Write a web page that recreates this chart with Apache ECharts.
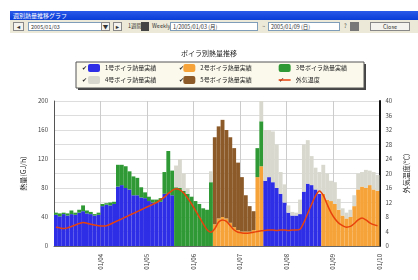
<!DOCTYPE html>
<html>
<head>
<meta charset="utf-8">
<script src="https://cdn.jsdelivr.net/npm/echarts@6/dist/echarts.min.js"></script>
<style>
  body { margin: 0; background: #fff; font-family: 'Noto Sans CJK JP', sans-serif; }
  #chart { position: absolute; left: 0; top: 0; width: 418px; height: 280px; }
  #bar { position: absolute; left: 10px; top: 11px; width: 408px; z-index: 2; }
  .cap { height: 9px; background: linear-gradient(#2a5ae8, #0a3cd8); color: #fff; font-size: 6px; line-height: 9px; padding-left: 3px; }
  .tools { height: 13px; background: #ece9d8; position: relative; font-size: 5.5px; color: #333; }
  .tools div { position: absolute; top: 2px; height: 9px; line-height: 9px; box-sizing: border-box; }
  .btn { border: 1px solid #888; background: #f4f3ee; text-align: center; }
  .fld { border: 1px solid #7f9db9; background: #fff; padding-left: 2px; }
</style>
</head>
<body>
<div id="bar">
  <div class="cap">週別熱量推移グラフ</div>
  <div class="tools">
    <div class="btn" style="left:3px;width:11px">◄</div>
    <div class="fld" style="left:18px;width:82px">2005/01/03</div>
    <div class="btn" style="left:91px;width:9px">▼</div>
    <div class="btn" style="left:103px;width:9px">►</div>
    <div style="left:118px">1週間</div>
    <div style="left:131px;width:8px;background:#444"></div>
    <div style="left:142px">Weekly</div>
    <div class="fld" style="left:160px;width:88px">1/2005/01/03 (月)</div>
    <div style="left:252px">~</div>
    <div class="fld" style="left:258px;width:72px">2005/01/09 (日)</div>
    <div style="left:334px">?</div>
    <div style="left:340px;width:9px;background:#777"></div>
    <div class="btn" style="left:360px;width:40px">Close</div>
  </div>
</div>
<div id="chart"></div>
<script>
// 日付ラベル（日の区切り）
const dayLabels = ['', '01/04', '01/05', '01/06', '01/07', '01/08', '01/09', '01/10']

// ボイラ別熱量 (2時間毎, 84点)
const boiler1 = [
  43, 41, 44, 42, 44, 43, 46, 48, 45, 44, 42, 43,
  55, 57, 56, 58, 82, 84, 80, 78, 70, 70, 67, 66,
  62, 60, 60, 61, 72, 73, 70, 0, 0, 0, 0, 0,
  0, 0, 0, 0, 0, 0, 0, 0, 0, 0, 0, 0,
  0, 0, 0, 0, 0, 0, 90, 95, 88, 80, 72, 60,
  46, 42, 42, 44, 75, 86, 84, 78, 72, 0, 0, 0,
  0, 0, 0, 0, 0, 0, 0, 0, 0, 0, 0, 0
]
const boiler2 = [
  0, 0, 0, 0, 0, 0, 0, 0, 0, 0, 0, 0,
  0, 0, 0, 0, 0, 0, 0, 0, 0, 0, 0, 0,
  0, 0, 0, 0, 0, 0, 0, 0, 0, 0, 0, 0,
  0, 0, 0, 0, 0, 30, 38, 40, 38, 32, 26, 22,
  20, 20, 20, 22, 95, 110, 0, 0, 0, 0, 0, 0,
  0, 0, 0, 0, 0, 0, 0, 0, 0, 72, 64, 62,
  58, 50, 42, 38, 40, 55, 78, 82, 80, 84, 78, 76
]
const boiler5 = [
  0, 0, 0, 0, 0, 0, 0, 0, 0, 0, 0, 0,
  0, 0, 0, 0, 0, 0, 0, 0, 0, 0, 0, 0,
  0, 0, 0, 0, 0, 0, 0, 0, 0, 0, 0, 0,
  0, 0, 0, 0, 0, 120, 127, 134, 122, 118, 109, 93,
  75, 50, 35, 26, 0, 0, 0, 0, 0, 0, 0, 0,
  0, 0, 0, 0, 0, 0, 0, 0, 0, 0, 0, 0,
  0, 0, 0, 0, 0, 0, 0, 0, 0, 0, 0, 0
]
const boiler3 = [
  3, 4, 2, 3, 5, 3, 4, 8, 4, 3, 2, 3,
  3, 2, 4, 3, 30, 28, 30, 25, 26, 24, 14, 8,
  6, 4, 4, 5, 30, 58, 34, 81, 80, 76, 72, 68,
  62, 58, 52, 50, 88, 0, 0, 0, 0, 0, 0, 0,
  0, 0, 0, 0, 40, 62, 0, 0, 0, 0, 0, 0,
  0, 0, 0, 0, 0, 0, 0, 0, 0, 0, 0, 0,
  0, 0, 0, 0, 0, 0, 0, 0, 0, 0, 0, 0
]
const boiler4 = [
  0, 0, 0, 0, 0, 0, 0, 0, 0, 0, 0, 0,
  0, 0, 0, 0, 0, 0, 0, 0, 0, 0, 0, 0,
  0, 0, 0, 0, 0, 0, 0, 30, 40, 24, 8, 0,
  0, 0, 0, 0, 15, 0, 0, 0, 0, 0, 0, 0,
  0, 0, 0, 0, 0, 28, 70, 65, 70, 60, 30, 25,
  10, 5, 4, 20, 65, 60, 40, 30, 30, 40, 36, 28,
  30, 15, 10, 8, 10, 15, 22, 20, 25, 20, 24, 22
]
// 外気温度 (℃)
const outTemp = [
  5.2, 5.0, 4.8, 5.0, 5.4, 5.8, 6.2, 6.5, 6.3, 6.0, 5.8, 5.6,
  5.5, 5.6, 6.0, 6.5, 7.0, 7.5, 8.0, 8.5, 9.0, 9.5, 10.0, 10.5,
  11.0, 11.5, 12.0, 12.8, 13.5, 14.5, 15.3, 15.8, 15.5, 14.6, 13.2, 11.6,
  9.8, 8.0, 6.2, 4.5, 3.8, 4.8, 6.6, 7.2, 6.8, 5.6, 4.4, 3.8,
  3.6, 3.5, 3.6, 3.8, 4.0, 4.2, 4.3, 4.4, 4.4, 4.3, 4.4, 4.4,
  4.3, 4.4, 4.4, 4.6, 6.5, 9.0, 11.5, 13.8, 15.2, 14.0, 11.5, 9.2,
  7.5, 6.3, 5.6, 5.2, 5.4, 6.2, 7.2, 7.7, 7.2, 6.4, 5.9, 5.6
]

const names = ['1号ボイラ熱量実績', '2号ボイラ熱量実績', '3号ボイラ熱量実績', '4号ボイラ熱量実績', '5号ボイラ熱量実績', '外気温度']
const colors = ['#2e2ee6', '#f6a43a', '#2f9a35', '#d8d8ce', '#8c5a28', '#e8420c']

// 2時間毎のカテゴリ
const slots = outTemp.map((v, i) => String(i))

const barSeries = (name, color, data) => ({
  name: name,
  type: 'bar',
  stack: 'heat',
  xAxisIndex: 1,
  barCategoryGap: '0%',
  itemStyle: { color: color },
  data: data
})

const chart = echarts.init(document.getElementById('chart'))
const font = 'Noto Sans CJK JP'
const checks = []
;[82, 179, 279].forEach(x => {
  ;[65, 77].forEach(y => {
    checks.push({ type: 'text', left: x, top: y, style: { text: '✔', fontSize: 6, fill: '#222' } })
  })
})

chart.setOption({
  textStyle: { fontFamily: font },
  animation: false,
  title: {
    text: 'ボイラ別熱量推移',
    left: 'center',
    top: 45,
    textStyle: { fontSize: 7, fontWeight: 'normal', color: '#222' }
  },
  graphic: [
    { type: 'rect', shape: { x: 78, y: 64, width: 288, height: 26 }, style: { fill: '#444' } },
    { type: 'rect', shape: { x: 76, y: 62, width: 288, height: 26 }, style: { fill: '#fbf9ec', stroke: '#555', lineWidth: 1 } }
  ].concat(checks),
  legend: [
    {
      data: [names[0], names[1], names[2]],
      left: 88, top: 64, padding: 0, itemWidth: 12, itemHeight: 8, itemGap: 27,
      textStyle: { fontSize: 6, color: '#222' }
    },
    {
      data: [names[3], names[4], { name: names[5], icon: 'path://M0,0 L24,0 L24,3 L0,3 Z' }],
      left: 88, top: 76, padding: 0, itemWidth: 12, itemHeight: 8, itemGap: 27,
      textStyle: { fontSize: 6, color: '#222' }
    }
  ],
  grid: { left: 54, right: 37, top: 101, bottom: 34 },
  xAxis: [
    {
      type: 'value',
      min: 0,
      max: 84,
      interval: 12,
      axisLine: { lineStyle: { color: '#666' } },
      axisTick: { show: false },
      splitLine: { lineStyle: { color: '#ccc' } },
      axisLabel: {
        rotate: 90,
        fontSize: 6,
        color: '#333',
        showMinLabel: false,
        formatter: v => dayLabels[v / 12]
      }
    },
    {
      type: 'category',
      data: slots,
      show: false
    }
  ],
  yAxis: [
    {
      type: 'value',
      min: 0, max: 200, interval: 40,
      name: '熱量(GJ/h)',
      nameLocation: 'middle',
      nameGap: 25,
      nameTextStyle: { fontSize: 7, color: '#222' },
      axisLine: { show: true, lineStyle: { color: '#555' } },
      axisTick: { show: false },
      axisLabel: { fontSize: 6, color: '#444', margin: 6 },
      splitLine: { lineStyle: { color: '#ccc' } }
    },
    {
      type: 'value',
      min: 0, max: 40, interval: 4,
      name: '外気温度(℃)',
      nameLocation: 'middle',
      nameGap: 20,
      nameTextStyle: { fontSize: 7, color: '#222' },
      axisLine: { show: true, lineStyle: { color: '#111', width: 2 } },
      axisTick: { show: false },
      axisLabel: { fontSize: 6, color: '#444', margin: 6 },
      splitLine: { lineStyle: { color: '#ddd' } }
    }
  ],
  series: [
    barSeries(names[0], colors[0], boiler1),
    barSeries(names[1], colors[1], boiler2),
    barSeries(names[4], colors[4], boiler5),
    barSeries(names[2], colors[2], boiler3),
    barSeries(names[3], colors[3], boiler4),
    {
      name: names[5],
      type: 'line',
      xAxisIndex: 1,
      yAxisIndex: 1,
      smooth: 0.3,
      symbol: 'none',
      lineStyle: { color: colors[5], width: 1.5 },
      itemStyle: { color: colors[5] },
      data: outTemp
    }
  ]
})
window.addEventListener('resize', function () {
  chart.resize()
})
</script>
</body>
</html>
